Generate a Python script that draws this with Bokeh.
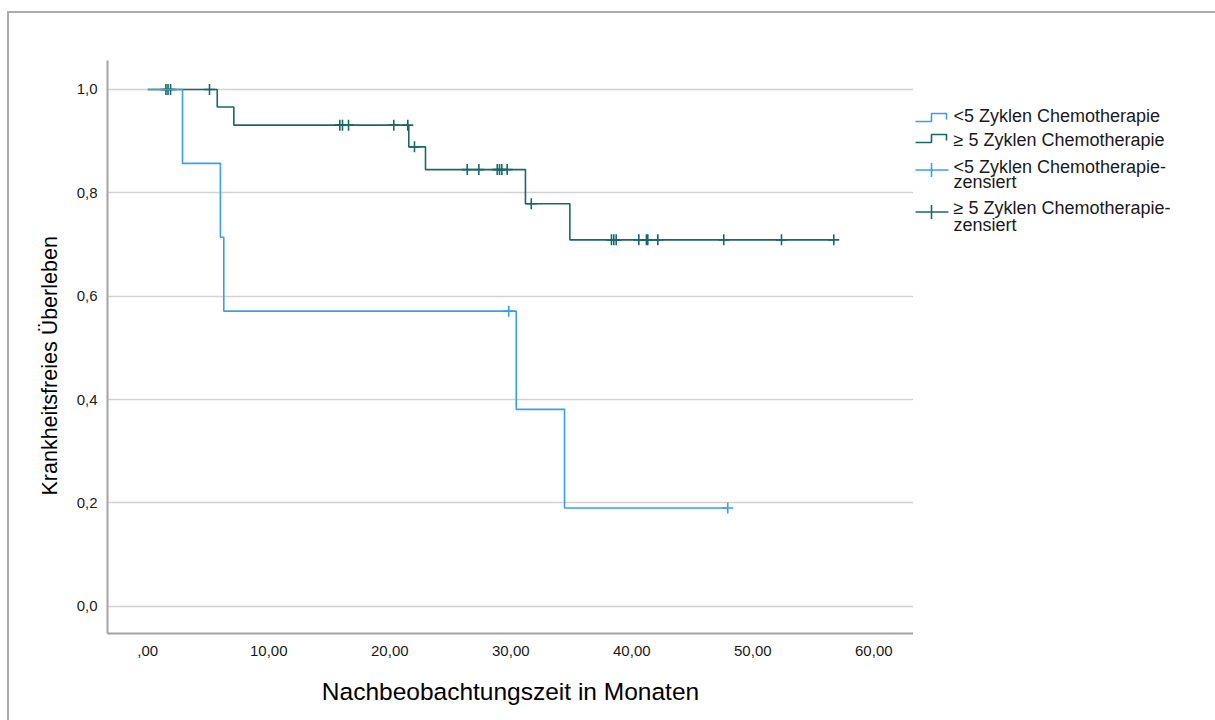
import numpy as np
from bokeh.plotting import figure
from bokeh.layouts import row, column
from bokeh.models import Range1d, FixedTicker, CustomJSTickFormatter, Spacer, Div, Title
from bokeh.core.properties import value
from bokeh.embed import file_html
from bokeh.resources import INLINE

# ---------------- data ----------------
X_TICKS = [0, 10, 20, 30, 40, 50, 60]
X_TICK_LABELS = [",00", "10,00", "20,00", "30,00", "40,00", "50,00", "60,00"]
Y_TICKS = [0.0, 0.2, 0.4, 0.6, 0.8, 1.0]
Y_TICK_LABELS = ["0,0", "0,2", "0,4", "0,6", "0,8", "1,0"]

GROUPS = ["<5 Zyklen Chemotherapie", "≥ 5 Zyklen Chemotherapie"]
CENSOR_SUFFIX = "zensiert"

# group 1: < 5 cycles
LT5_EVENT_TIMES = [2.87, 6.00, 6.28, 30.45, 34.44]
LT5_EVENT_SURV = [0.857, 0.714, 0.571, 0.381, 0.190]
LT5_CENSOR_TIMES = [29.83, 47.93]

# group 2: >= 5 cycles
GE5_EVENT_TIMES = [5.74, 7.11, 21.57, 22.95, 31.21, 34.88]
GE5_EVENT_SURV = [0.966, 0.931, 0.889, 0.845, 0.779, 0.709]
GE5_CENSOR_TIMES = [1.50, 1.67, 1.88, 5.10, 15.87, 16.09, 16.59, 20.33, 21.49,
                    22.04, 26.40, 27.36, 28.88, 29.07, 29.26, 29.70, 31.69,
                    38.32, 38.51, 38.71, 40.58, 41.21, 41.32, 42.15, 47.60,
                    52.37, 56.69]

# ---------------- style ----------------
BLUE = "#3a9fe8"
TEAL = "#1a6767"
AXIS_GRAY = "#a3a3a3"
GRID_GRAY = "#d2d2d2"
BORDER_GRAY = "#ababab"
TEXT = "#1a1a1a"
FONT = "Liberation Sans"

LABEL_CODE = "const i = tick_values.indexOf(tick); return i < 0 ? '' : tick_labels[i];"


def survival_at(t, times, surv):
    idx = np.searchsorted(times, t, side="right")
    return 1.0 if idx == 0 else surv[idx - 1]


def km_path(event_times, event_surv, censor_times):
    end = max(max(event_times), max(censor_times))
    xs = [0.0] + list(event_times) + [end]
    ys = [1.0] + list(event_surv) + [event_surv[-1]]
    return xs, ys


def censor_points(censor_times, event_times, event_surv):
    ys = [survival_at(t, event_times, event_surv) for t in censor_times]
    return list(censor_times), ys


# ---------------- main plot ----------------
main = figure(width=904, height=707,
              x_range=Range1d(-3.33, 63.28), y_range=Range1d(-0.0528, 1.0561),
              output_backend="svg", toolbar_location=None,
              min_border_left=98, min_border_right=0,
              min_border_top=47, min_border_bottom=87)
main.outline_line_color = None
main.background_fill_color = "white"
main.border_fill_color = "white"

main.xgrid.grid_line_color = None
main.ygrid.ticker = FixedTicker(ticks=Y_TICKS)
main.ygrid.grid_line_color = GRID_GRAY
main.ygrid.grid_line_width = 1.5

for ax in (main.xaxis[0], main.yaxis[0]):
    ax.axis_line_color = AXIS_GRAY
    ax.axis_line_width = 2
    ax.major_tick_line_color = None
    ax.minor_tick_line_color = None
    ax.major_tick_out = 0
    ax.major_tick_in = 0
    ax.major_label_text_font = FONT
    ax.major_label_text_font_size = "15px"
    ax.major_label_text_color = TEXT
    ax.axis_label_text_font = FONT
    ax.axis_label_text_font_style = "normal"
    ax.axis_label_text_color = "#000000"

main.xaxis.ticker = FixedTicker(ticks=X_TICKS)
main.xaxis.formatter = CustomJSTickFormatter(
    args=dict(tick_values=X_TICKS, tick_labels=X_TICK_LABELS), code=LABEL_CODE)
main.xaxis.axis_label = "Nachbeobachtungszeit in Monaten"
main.xaxis.axis_label_text_font_size = "24.5px"
main.xaxis.major_label_standoff = 12
main.xaxis.axis_label_standoff = 19

main.yaxis.ticker = FixedTicker(ticks=Y_TICKS)
main.yaxis.formatter = CustomJSTickFormatter(
    args=dict(tick_values=Y_TICKS, tick_labels=Y_TICK_LABELS), code=LABEL_CODE)
main.yaxis.major_label_standoff = 10

# vertical axis title, sitting slightly below the frame's centre
y_title = Title(text="Krankheitsfreies Überleben", align="left", offset=138,
                standoff=24, text_font=FONT, text_font_size="21.5px",
                text_font_style="normal", text_color="#000000")
main.add_layout(y_title, "left")

# survival curves
for (et, es, ct, color) in ((GE5_EVENT_TIMES, GE5_EVENT_SURV, GE5_CENSOR_TIMES, TEAL),
                            (LT5_EVENT_TIMES, LT5_EVENT_SURV, LT5_CENSOR_TIMES, BLUE)):
    xs, ys = km_path(et, es, ct)
    main.step(xs, ys, mode="after", line_color=color, line_width=1.6)
    cx, cy = censor_points(ct, et, es)
    main.scatter(cx, cy, marker="cross", size=11, line_color=color, line_width=1.6)

# ---------------- legend panel ----------------
# its frame lines up with the main frame (window rows 60..633)
leg = figure(width=302, height=707,
             x_range=Range1d(913, 1215), y_range=Range1d(633, 60),
             x_axis_type=None, y_axis_type=None,
             output_backend="svg", toolbar_location=None, min_border=0,
             min_border_top=47, min_border_bottom=87)
leg.outline_line_color = None
leg.background_fill_color = "white"
leg.border_fill_color = "white"

# step icons
for (yb, color) in ((121, BLUE), (142, TEAL)):
    yt = yb - 8
    leg.line([915, 931, 931, 946, 946], [yb, yb, yt, yt, yt + 6],
             line_color=color, line_width=1.6)
# cross icons
for (yc, color) in ((169.5, BLUE), (211.5, TEAL)):
    leg.line([915, 948], [yc, yc], line_color=color, line_width=1.6)
    leg.line([931, 931], [yc - 7, yc + 7], line_color=color, line_width=1.6)

legend_lines = [GROUPS[0], GROUPS[1], GROUPS[0] + "-", CENSOR_SUFFIX,
                GROUPS[1] + "-", CENSOR_SUFFIX]
legend_y = [115, 139, 166, 181, 207, 224]
leg.text(x=[953] * len(legend_lines), y=legend_y, text=legend_lines,
         text_font=value(FONT), text_font_size="18px", text_color=TEXT,
         text_baseline="middle", text_align="left")

# ---------------- outer frame lines ----------------
top_bar = Div(width=1208, height=2, margin=0,
              styles={"background-color": BORDER_GRAY})
left_bar = Div(width=2, height=707, margin=0,
               styles={"background-color": BORDER_GRAY})

layout = column(
    Spacer(width=1215, height=11, margin=0),
    row(Spacer(width=7, height=709, margin=0),
        column(top_bar, row(left_bar, main, leg, spacing=0), spacing=0),
        spacing=0),
    spacing=0)

open("out.html", "w").write(file_html(layout, INLINE))
